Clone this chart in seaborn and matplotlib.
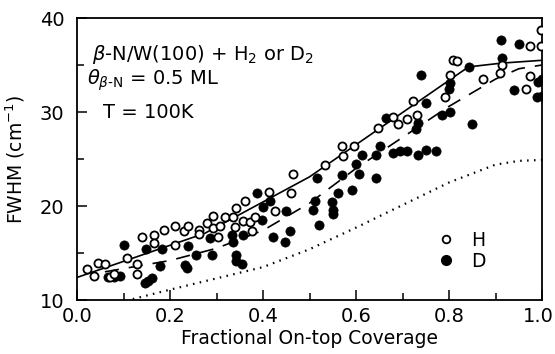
import matplotlib
matplotlib.use("Agg")
import matplotlib.pyplot as plt
import matplotlib.transforms as mtransforms
from matplotlib.lines import Line2D
import seaborn as sns
import numpy as np
import pandas as pd

# ---- data ----
h_x = [0.022, 0.037, 0.046, 0.060, 0.071, 0.080, 0.107, 0.128, 0.128, 0.139,
       0.166, 0.166, 0.187, 0.211, 0.211, 0.231, 0.239, 0.263, 0.263, 0.279,
       0.293, 0.293, 0.304, 0.308, 0.318, 0.335, 0.340, 0.343, 0.358, 0.361,
       0.371, 0.383, 0.376, 0.413, 0.426, 0.460, 0.465, 0.533, 0.569, 0.596,
       0.573, 0.647, 0.680, 0.691, 0.709, 0.723, 0.731, 0.791, 0.802, 0.809,
       0.818, 0.874, 0.913, 0.910, 0.965, 0.974, 0.974, 0.998, 0.998]
h_y = [13.3, 12.6, 13.9, 13.8, 12.4, 12.8, 14.5, 13.8, 12.8, 16.7,
       16.9, 16.1, 17.4, 17.9, 15.9, 17.3, 17.9, 17.5, 17.0, 18.2,
       18.9, 17.7, 16.7, 17.9, 18.8, 18.8, 17.8, 19.8, 18.4, 20.5,
       18.3, 18.8, 17.3, 21.5, 19.5, 21.4, 23.4, 24.4, 26.4, 26.4,
       25.3, 28.3, 29.5, 28.7, 29.3, 31.2, 29.7, 31.6, 33.9, 35.5,
       35.4, 33.5, 35.0, 34.2, 32.4, 33.8, 37.0, 37.0, 38.7]

d_x = [0.067, 0.080, 0.092, 0.102, 0.146, 0.153, 0.161, 0.148, 0.178, 0.182,
       0.232, 0.236, 0.238, 0.256, 0.290, 0.286, 0.333, 0.336, 0.343, 0.343,
       0.354, 0.358, 0.388, 0.397, 0.401, 0.415, 0.421, 0.449, 0.447, 0.457,
       0.508, 0.512, 0.517, 0.520, 0.548, 0.551, 0.551, 0.562, 0.569, 0.591,
       0.601, 0.606, 0.612, 0.643, 0.644, 0.652, 0.665, 0.680, 0.695, 0.709,
       0.729, 0.734, 0.733, 0.739, 0.750, 0.751, 0.771, 0.784, 0.801, 0.802,
       0.803, 0.842, 0.849, 0.911, 0.913, 0.940, 0.951, 0.989, 0.992, 0.999,
       0.999]
d_y = [12.5, 12.5, 12.6, 15.9, 11.8, 12.0, 12.3, 15.4, 13.6, 15.4,
       13.7, 13.4, 15.7, 14.8, 14.8, 16.6, 16.9, 16.2, 14.8, 14.2,
       13.8, 16.9, 21.4, 18.5, 19.9, 20.5, 16.7, 19.5, 16.2, 17.3,
       19.6, 20.5, 23.0, 18.0, 20.4, 19.6, 19.2, 21.4, 23.3, 21.7,
       24.5, 23.4, 25.4, 23.0, 25.4, 26.4, 29.4, 25.6, 25.8, 25.8,
       28.2, 28.8, 25.4, 33.9, 26.0, 31.0, 25.8, 29.7, 32.4, 33.1,
       30.0, 34.8, 28.7, 37.7, 35.7, 32.3, 37.2, 31.6, 33.2, 33.5,
       31.7]

solid_x = [0.0, 0.275, 0.50, 0.842, 0.913, 1.0]
solid_y = [12.4, 17.1, 23.1, 34.8, 35.2, 35.5]

dash_x = [0.06, 0.20, 0.30, 0.40, 0.50, 0.60, 0.70, 0.80, 0.90, 0.95, 1.0]
dash_y = [13.0, 14.2, 15.5, 17.4, 20.3, 24.0, 27.3, 30.6, 33.5, 34.6, 35.0]

dot_x = [0.12, 0.20, 0.30, 0.40, 0.50, 0.60, 0.70, 0.80, 0.90, 0.95, 1.0]
dot_y = [10.1, 11.1, 12.3, 13.5, 15.4, 17.7, 20.1, 22.5, 24.4, 24.8, 24.9]

x_ticks = [0.0, 0.2, 0.4, 0.6, 0.8, 1.0]
x_ticklabels = ["0.0", "0.2", "0.4", "0.6", "0.8", "1.0"]
y_ticks = [10, 20, 30, 40]
y_ticklabels = ["10", "20", "30", "40"]

# ---- plotting ----
sns.set_style("ticks")
plt.rcParams['font.family'] = ['DejaVu Sans']
plt.rcParams['mathtext.fontset'] = 'dejavusans'
plt.rcParams['text.color'] = 'black'
plt.rcParams['axes.labelcolor'] = 'black'
plt.rcParams['xtick.color'] = 'black'
plt.rcParams['ytick.color'] = 'black'

fig = plt.figure(figsize=(5.55, 3.54), dpi=100)
ax = fig.add_axes([77/555, 54/354, 465/555, 282/354])

h_df = pd.DataFrame({"x": h_x, "y": h_y})
d_df = pd.DataFrame({"x": d_x, "y": d_y})

sns.lineplot(x=solid_x, y=solid_y, ax=ax, color="black", lw=1.2, sort=False,
             estimator=None)
sns.lineplot(x=dash_x, y=dash_y, ax=ax, color="black", lw=1.2, sort=False,
             estimator=None)
ax.lines[-1].set_dashes((8.5, 6.0))
sns.lineplot(x=dot_x, y=dot_y, ax=ax, color="black", lw=1.6, sort=False,
             estimator=None)
ax.lines[-1].set_linestyle((0, (0.7, 2.4)))

sns.scatterplot(data=d_df, x="x", y="y", ax=ax, color="black", s=44,
                edgecolor="black", linewidth=0.5, zorder=3)
sns.scatterplot(data=h_df, x="x", y="y", ax=ax, facecolor="white", s=34,
                edgecolor="black", linewidth=1.3, zorder=4)

ax.set_xlim(0, 1.0)
ax.set_ylim(10, 40)
ax.set_xticks(x_ticks)
ax.set_xticklabels(x_ticklabels)
ax.set_yticks(y_ticks)
ax.set_yticklabels(y_ticklabels)
ax.set_xticks(np.arange(0.1, 1.0, 0.2), minor=True)
ax.set_yticks([15, 25, 35], minor=True)
ax.tick_params(which="major", direction="in", length=7, width=1.1,
               labelsize=14, colors="black")
ax.tick_params(axis="x", which="major", pad=5)
ax.tick_params(axis="y", which="major", pad=9)
ax.tick_params(which="minor", direction="in", length=5, width=1.1,
               colors="black")
for sp in ax.spines.values():
    sp.set_visible(True)
    sp.set_linewidth(1.3)
    sp.set_color("black")

# nudge the last x tick label so it stays inside the image
last = ax.get_xticklabels()[-1]
last.set_transform(last.get_transform() +
                   mtransforms.ScaledTranslation(-4/100, 0, fig.dpi_scale_trans))

ax.set_xlabel("Fractional On-top Coverage", fontsize=13.5, labelpad=2,
              color="black")
ax.set_ylabel("FWHM (cm$^{-1}$)", fontsize=13.5, labelpad=9, color="black")

ax.text(0.032, 36.1, r"$\beta$-N/W(100) + H$_2$ or D$_2$", fontsize=14,
        va="center", ha="left", color="black")
ax.text(0.022, 33.4, r"$\theta_{\beta\text{-}\mathrm{N}}$ = 0.5 ML", fontsize=14,
        va="center", ha="left", color="black")
ax.text(0.056, 30.0, "T = 100K", fontsize=14, va="center", ha="left",
        color="black")

handles = [Line2D([], [], ls="none", marker="o", markersize=5.5,
                  markerfacecolor="white", markeredgecolor="black",
                  markeredgewidth=1.3),
           Line2D([], [], ls="none", marker="o", markersize=7,
                  markerfacecolor="black", markeredgecolor="black")]
leg = ax.legend(handles, ["H", "D"], loc="upper left",
                bbox_to_anchor=(0.774, 0.245), frameon=False,
                handlelength=1.0, handletextpad=0.8, labelspacing=0.1,
                borderaxespad=0, borderpad=0, fontsize=13.5)
for t in leg.get_texts():
    t.set_color("black")

fig.savefig("out.png", dpi=100)
